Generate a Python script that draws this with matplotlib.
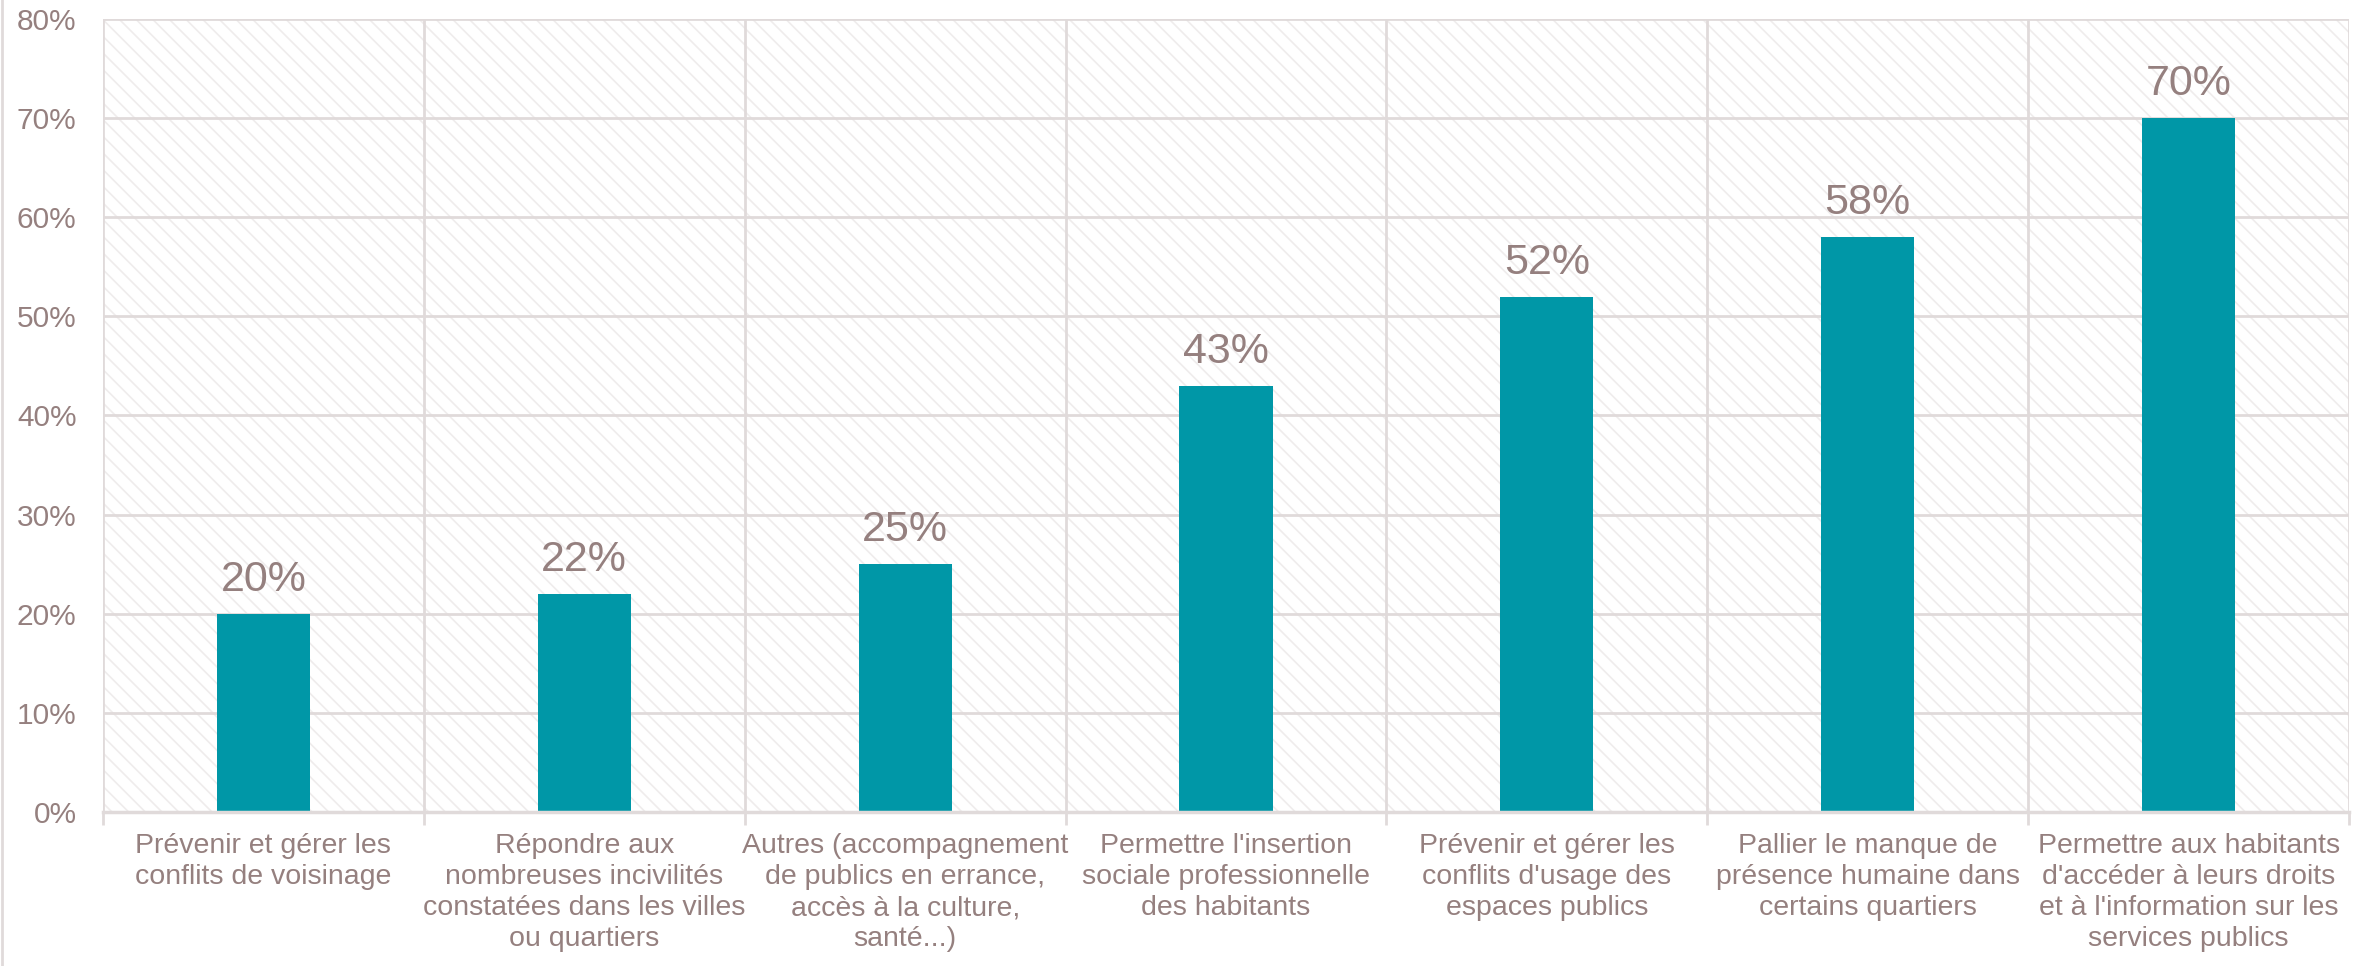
import matplotlib.pyplot as plt
from matplotlib.patches import Rectangle
from matplotlib.lines import Line2D
from matplotlib.ticker import MultipleLocator, FuncFormatter

categories = [
    "Prévenir et gérer les\nconflits de voisinage",
    "Répondre aux\nnombreuses incivilités\nconstatées dans les villes\nou quartiers",
    "Autres (accompagnement\nde publics en errance,\naccès à la culture,\nsanté...)",
    "Permettre l'insertion\nsociale professionnelle\ndes habitants",
    "Prévenir et gérer les\nconflits d'usage des\nespaces publics",
    "Pallier le manque de\nprésence humaine dans\ncertains quartiers",
    "Permettre aux habitants\nd'accéder à leurs droits\net à l'information sur les\nservices publics",
]
values = [20, 22, 25, 43, 52, 58, 70]

BAR = "#0097A7"
TXT = "#95807F"
GRID = "#E0DADA"

plt.rcParams["font.family"] = ["Liberation Sans", "DejaVu Sans"]
plt.rcParams["hatch.linewidth"] = 1.2

fig = plt.figure(figsize=(23.79, 9.66), dpi=100)
ax = fig.add_axes([103 / 2379, 1 - 812 / 966, (2349 - 103) / 2379, (812 - 19) / 966])

x = list(range(len(values)))
ax.set_xlim(-0.5, len(values) - 0.5)
ax.set_ylim(0, 80)

# hatched background of the plot area
ax.add_patch(Rectangle((0, 0), 1, 1, transform=ax.transAxes, facecolor="white",
                       edgecolor="#EFECEC", hatch="\\\\", linewidth=0, zorder=0))

ax.bar(x, values, width=0.29, color=BAR, zorder=3)
for xi, v in zip(x, values):
    ax.annotate(f"{v}%", (xi, v), xytext=(0, 10), textcoords="offset points",
                ha="center", va="bottom", fontsize=31, color=TXT, zorder=4)

ax.yaxis.set_major_locator(MultipleLocator(10))
ax.yaxis.set_major_formatter(FuncFormatter(lambda v, _: f"{v:.0f}%"))
ax.grid(axis="y", color=GRID, linewidth=2, zorder=1)
for b in range(len(values) + 1):
    ax.axvline(b - 0.5, color=GRID, linewidth=2, zorder=1)

ax.set_xticks([b - 0.5 for b in range(len(values) + 1)], minor=False)
ax.set_xticklabels([])
ax.set_xticks(x, minor=True)
ax.set_xticklabels(categories, minor=True, fontsize=20.5, color=TXT, linespacing=1.26)
ax.tick_params(axis="x", which="major", length=9, width=2, color=GRID)
ax.tick_params(axis="x", which="minor", length=0, pad=15)
ax.tick_params(axis="y", length=0, labelsize=21.5, labelcolor=TXT, pad=19)

for s in ["top", "right", "left"]:
    ax.spines[s].set_visible(False)
ax.spines["bottom"].set_color(GRID)
ax.spines["bottom"].set_linewidth(2.5)
ax.spines["bottom"].set_zorder(5)

fig.add_artist(Line2D([0.001, 0.001], [0, 1], transform=fig.transFigure, color=GRID, linewidth=2))

fig.savefig("out.png", dpi=100)
